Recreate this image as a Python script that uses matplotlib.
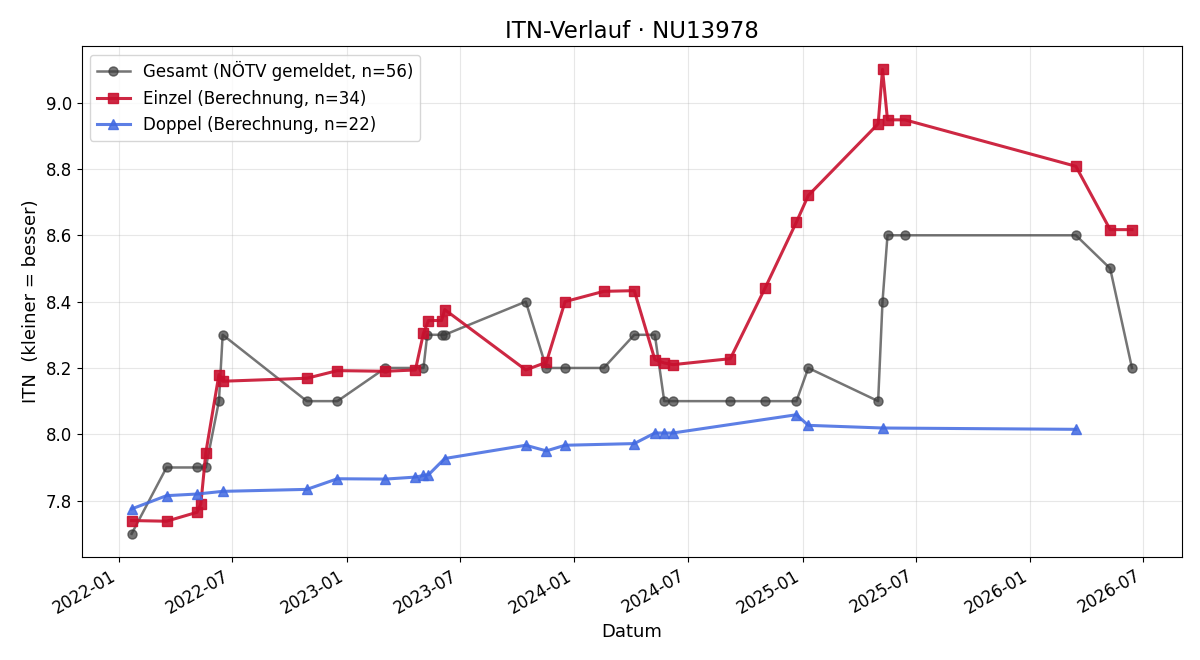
import matplotlib
matplotlib.use("Agg")
import matplotlib.pyplot as plt
import matplotlib.dates as mdates
import pandas as pd

gesamt_dates = ["2022-01-21", "2022-03-18", "2022-05-06", "2022-05-20", "2022-06-10", "2022-06-16",
                "2022-10-29", "2022-12-17", "2023-03-04", "2023-05-04", "2023-05-10", "2023-06-02",
                "2023-06-07", "2023-10-15", "2023-11-17", "2023-12-17", "2024-02-17", "2024-04-06",
                "2024-05-09", "2024-05-24", "2024-06-07", "2024-09-07", "2024-11-02", "2024-12-22",
                "2025-01-10", "2025-05-02", "2025-05-09", "2025-05-17", "2025-06-14", "2026-03-15",
                "2026-05-09", "2026-06-13"]
gesamt_vals = [7.7, 7.9, 7.9, 7.9, 8.1, 8.3,
               8.1, 8.1, 8.2, 8.2, 8.3, 8.3,
               8.3, 8.4, 8.2, 8.2, 8.2, 8.3,
               8.3, 8.1, 8.1, 8.1, 8.1, 8.1,
               8.2, 8.1, 8.4, 8.6, 8.6, 8.6,
               8.5, 8.2]

einzel_dates = ["2022-01-21", "2022-03-18", "2022-05-06", "2022-05-12", "2022-05-20", "2022-06-10",
                "2022-06-16", "2022-10-29", "2022-12-17", "2023-03-04", "2023-04-21", "2023-05-04",
                "2023-05-12", "2023-06-02", "2023-06-07", "2023-10-15", "2023-11-17", "2023-12-17",
                "2024-02-17", "2024-04-06", "2024-05-09", "2024-05-24", "2024-06-07", "2024-09-07",
                "2024-11-02", "2024-12-22", "2025-01-10", "2025-05-02", "2025-05-09", "2025-05-17",
                "2025-06-14", "2026-03-15", "2026-05-09", "2026-06-13"]
einzel_vals = [7.74, 7.738, 7.765, 7.79, 7.945, 8.18,
               8.16, 8.169, 8.192, 8.19, 8.194, 8.305,
               8.343, 8.343, 8.376, 8.194, 8.217, 8.40,
               8.431, 8.433, 8.225, 8.215, 8.21, 8.228,
               8.442, 8.64, 8.72, 8.936, 9.10, 8.948,
               8.948, 8.808, 8.617, 8.617]

doppel_dates = ["2022-01-21", "2022-03-18", "2022-05-06", "2022-06-16", "2022-10-29", "2022-12-17",
                "2023-03-04", "2023-04-21", "2023-05-04", "2023-05-12", "2023-06-07", "2023-10-15",
                "2023-11-17", "2023-12-17", "2024-04-06", "2024-05-09", "2024-05-24", "2024-06-07",
                "2024-12-22", "2025-01-10", "2025-05-09", "2026-03-15"]
doppel_vals = [7.775, 7.815, 7.82, 7.828, 7.834, 7.866,
               7.865, 7.871, 7.876, 7.878, 7.927, 7.967,
               7.95, 7.967, 7.972, 8.004, 8.004, 8.004,
               8.059, 8.027, 8.019, 8.015]

fig, ax = plt.subplots(figsize=(12, 6.6), dpi=100)
fig.subplots_adjust(left=0.068, right=0.985, top=0.930, bottom=0.156)

ax.plot(pd.to_datetime(gesamt_dates), gesamt_vals, color="#3a3a3a", alpha=0.7, lw=1.8,
        marker="o", markersize=6.5, label="Gesamt (NÖTV gemeldet, n=56)")
ax.plot(pd.to_datetime(einzel_dates), einzel_vals, color="#C8102E", alpha=0.9, lw=2.2,
        marker="s", markersize=7.5, label="Einzel (Berechnung, n=34)")
ax.plot(pd.to_datetime(doppel_dates), doppel_vals, color="#4169E1", alpha=0.85, lw=2.2,
        marker="^", markersize=7.5, label="Doppel (Berechnung, n=22)")

ax.set_title("ITN-Verlauf · NU13978", fontsize=16.5)
ax.set_xlabel("Datum", fontsize=13)
ax.set_ylabel("ITN  (kleiner = besser)", fontsize=13)
ax.grid(True, alpha=0.3)
ax.xaxis.set_major_locator(mdates.MonthLocator(bymonth=[1, 7]))
ax.xaxis.set_major_formatter(mdates.DateFormatter("%Y-%m"))
ax.tick_params(labelsize=12)
ax.legend(loc="upper left", fontsize=12)
for lbl in ax.get_xticklabels():
    lbl.set_rotation(30)
    lbl.set_ha("right")
fig.savefig("out.png")
